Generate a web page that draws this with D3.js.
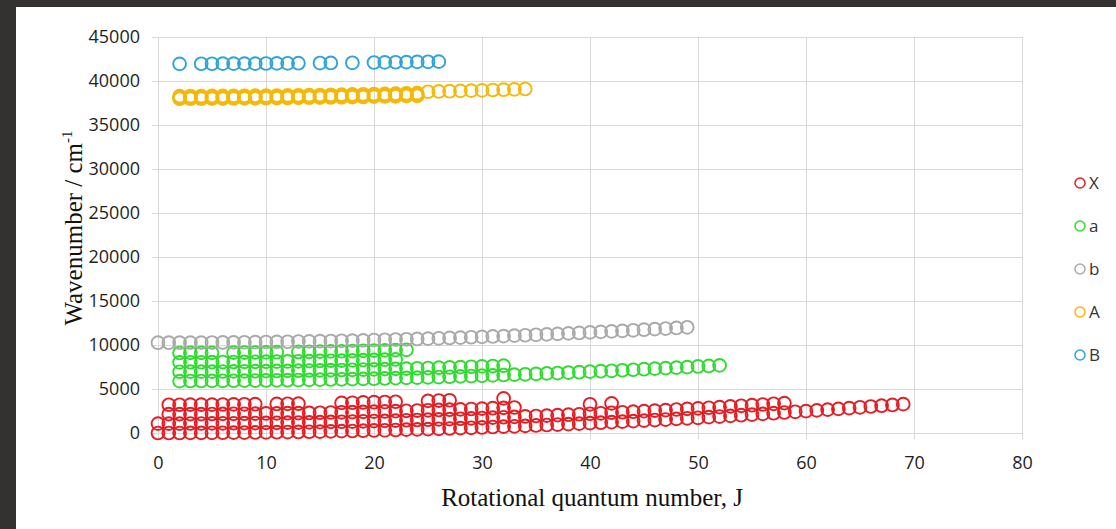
<!DOCTYPE html>
<html>
<head>
<meta charset="utf-8">
<script src="https://cdn.jsdelivr.net/npm/d3@7"></script>
<style>
html, body { margin: 0; padding: 0; background: #333230; }
svg { display: block; }
</style>
</head>
<body>
<svg id="chart" width="1116" height="529"></svg>
<script>
// axis ticks
const xTicks = [0, 10, 20, 30, 40, 50, 60, 70, 80];
const yTicks = [0, 5000, 10000, 15000, 20000, 25000, 30000, 35000, 40000, 45000];

// legend order
const seriesNames = ['X', 'a', 'b', 'A', 'B'];

// each row = one vibrational level: first J, then wavenumber for consecutive J (null = not observed)
const X_v0 = { j0: 0, e: [0,0,0,10,10,20,30,40,50,60,80,90,110,120,140,160,190,210,230,260,290,310,340,380,410,440,480,510,550,590,630,680,720,760,810,860,910,960,1010,1060,1120,1170,1230,1290,1350,1410,1470,1530,1600,1670,1730,1800,1870,1950,2020,2090,2170,2250,2330,2410,2490,2570,2660,2740,2830,2920,3010,3100,3190,3280] };
const X_v1 = { j0: 0, e: [1070,1070,1070,1080,1080,1090,1100,1110,1120,1130,1150,1160,1180,1190,1210,1230,1260,1280,1300,1330,1360,1380,1410,1450,1480,1510,1550,1580,1620,1660,1700,1750,1790,1830,1880,1930,1980,2030,2080,2130,2190,2240,2300,2360,2420,2480,2540,2600,2670,2740,2800,2870,2940,3020,3090,3160,3240,3320,3400] };
const X_v2 = { j0: 1, e: [2140,2140,2150,2150,2160,2170,2180,2190,2200,2220,2230,2250,2260,2280,2300,2330,2350,2370,2400,2430,2450,2480,2520,2550,2580,2620,2650,2690,2730,2770,2820,2860,2900,null,null,null,null,null,null,3260,null,3370] };
const X_v3 = { j0: 1, e: [3210,3210,3220,3220,3230,3240,3250,3260,3270,null,3300,3320,3330,null,null,null,3420,3440,3470,3500,3520,3550,null,null,3650,3690,3720,null,null,null,null,3930] };

const a_v0 = { j0: 2, e: [5900,5910,5910,5920,5930,5940,5950,5960,5970,5990,6000,6020,6040,6060,6080,6100,6120,6150,6170,6200,6230,6260,6290,6320,6360,6390,6430,6470,6510,6550,6590,6630,6670,6720,6770,6810,6860,6910,6970,7020,7070,7130,7190,7250,7310,7370,7430,7490,7560,7620,7690] };
const a_v1 = { j0: 2, e: [6960,6970,6970,6980,6990,7000,7010,7020,7030,7050,7060,7080,7100,7120,7140,7160,7180,7210,7230,7260,7290,7320,7350,7380,7420,7450,7490,7530,7570,7610,7650] };
const a_v2 = { j0: 2, e: [8030,8040,8040,8050,8060,8070,8080,8090,8100,8120,8130,8150,8170,8190,8210,8230,8250,8280,8300,8330,8360] };
const a_v3 = { j0: 2, e: [9090,9100,9100,9110,null,9130,9140,9150,9160,9180,null,9210,9230,9250,9270,9290,9310,9340,9360,9390,9420,9450] };

const b_v0 = { j0: 0, e: [10260,10260,10260,10270,10270,10280,10290,10300,10310,10320,10340,10350,10370,10390,10410,10430,10450,10480,10500,10530,10560,10590,10620,10650,10690,10720,10760,10800,10840,10880,10920,10970,11010,11060,11110,11160,11210,11260,11320,11370,11430,11490,11550,11610,11670,11740,11800,11870,11940,12010] };

const A_r1 = { j0: 2, e: [37980,37990,37990,38000,38000,38010,38020,38030,38040,38050,38070,38080,38100,38110,38130,38150,38170,38190,38220,38240,38260,38290,38320] };
const A_r2 = { j0: 2, e: [38130,38140,38140,38150,38150,38160,38170,38180,38190,38200,38220,38230,38250,38260,38280,38300,38320,38340,38370,38390,38410,38440,38470] };
const A_r3 = { j0: 2, e: [38280,38290,38290,38300,38300,38310,38320,38330,38340,38350,38370,38380,38400,38410,38430,38450,38470,38490,38520,38540,38560,38590,38620] };
const A_r4 = { j0: 25, e: [38780,38810,38840,38880,38910,38940,38980,39010,39050,39090] };

const B_v0 = { j0: 2, e: [41950,null,41960,41960,41970,41970,41980,41980,41990,42000,42010,42020,null,42040,42050,null,42070,null,42100,42120,42130,42150,42170,42180,42200] };

const seriesRows = {
    X: [X_v0, X_v1, X_v2, X_v3],
    a: [a_v0, a_v1, a_v2, a_v3],
    b: [b_v0],
    A: [A_r1, A_r2, A_r3, A_r4],
    B: [B_v0]
};

const colorOf = {
    X: '#e31d23',
    a: '#2fdb2f',
    b: '#a9a9a9',
    A: '#f4b806',
    B: '#2ea4d6'
};

// layout
const svg = d3.select('#chart');
const margin = { left: 158, top: 37, right: 1022, bottom: 433 };

svg.append('rect')
    .attr('x', 16).attr('y', 7)
    .attr('width', 1100).attr('height', 522)
    .attr('fill', '#ffffff');

var x = d3.scaleLinear().domain([0, 80]).range([margin.left, margin.right]);
var y = d3.scaleLinear().domain([0, 45000]).range([margin.bottom, margin.top]);

const gridColor = '#d9d9d9';
const tickFont = '"Open Sans", "Liberation Sans", sans-serif';

// y axis with gridlines
var yAxisG = svg.append('g')
    .attr('transform', 'translate(' + margin.left + ',0)')
    .call(d3.axisLeft(y).tickValues(yTicks).tickSize(-(margin.right - margin.left)).tickPadding(18).tickFormat(d3.format('d')));
yAxisG.select('.domain').attr('stroke', gridColor);
yAxisG.selectAll('.tick line').attr('stroke', gridColor).attr('x1', -6);
yAxisG.selectAll('.tick text')
    .attr('fill', '#1e1e1e')
    .style('font-family', tickFont)
    .style('font-size', '18px');

// x axis with gridlines
var xAxisG = svg.append('g')
    .attr('transform', 'translate(0,' + margin.bottom + ')')
    .call(d3.axisBottom(x).tickValues(xTicks).tickSize(-(margin.bottom - margin.top)).tickPadding(23));
xAxisG.select('.domain').attr('stroke', gridColor);
xAxisG.selectAll('.tick line').attr('stroke', gridColor).attr('y1', 6);
xAxisG.selectAll('.tick text')
    .attr('fill', '#1e1e1e')
    .style('font-family', tickFont)
    .style('font-size', '18px');

// flatten rows into points
function pointsOf(name) {
    var pts = [];
    seriesRows[name].forEach(function(row) {
        row.e.forEach(function(v, i) {
            if (v !== null) pts.push({ j: row.j0 + i, e: v });
        });
    });
    return pts;
}

seriesNames.forEach(function(name) {
    svg.append('g')
        .attr('class', 'series-' + name)
        .selectAll('circle')
        .data(pointsOf(name))
        .enter()
        .append('circle')
        .attr('cx', d => x(d.j))
        .attr('cy', d => y(d.e))
        .attr('r', 6.4)
        .attr('fill', 'none')
        .attr('stroke', colorOf[name])
        .attr('stroke-width', 1.9);
});

// axis titles
svg.append('text')
    .attr('x', 592).attr('y', 506)
    .attr('text-anchor', 'middle')
    .style('font-family', '"Liberation Serif", "DejaVu Serif", serif')
    .style('font-size', '25px')
    .attr('fill', '#111')
    .text('Rotational quantum number, J');

var yTitle = svg.append('text')
    .attr('transform', 'translate(82,228) rotate(-90)')
    .attr('text-anchor', 'middle')
    .style('font-family', '"Liberation Serif", "DejaVu Serif", serif')
    .style('font-size', '25px')
    .attr('fill', '#111');
yTitle.append('tspan').text('Wavenumber / cm');
yTitle.append('tspan').attr('dy', -10).style('font-size', '15px').text('-1');

// legend
var legendY = d3.scalePoint().domain(seriesNames).range([183, 355]);
var legend = svg.append('g');
seriesNames.forEach(function(name) {
    legend.append('circle')
        .attr('cx', 1080).attr('cy', legendY(name))
        .attr('r', 5)
        .attr('fill', 'none')
        .attr('stroke', colorOf[name])
        .attr('stroke-width', 1.5);
    legend.append('text')
        .attr('x', 1089).attr('y', legendY(name))
        .attr('dy', '0.36em')
        .style('font-family', tickFont)
        .style('font-size', '17px')
        .attr('fill', '#333')
        .text(name);
});
</script>
</body>
</html>
